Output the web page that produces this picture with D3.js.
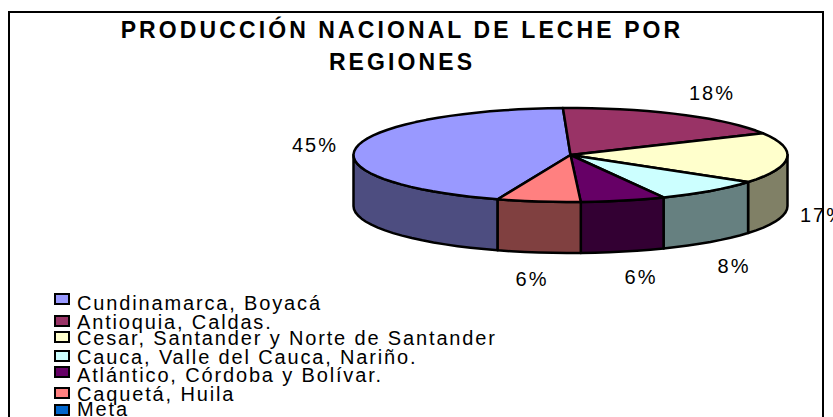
<!DOCTYPE html>
<html>
<head>
<meta charset="utf-8">
<script src="https://cdnjs.cloudflare.com/ajax/libs/d3/7.8.5/d3.min.js"></script>
<style>
html, body { margin: 0; padding: 0; background: #fff; overflow: hidden; }
text { font-family: "Liberation Sans", Arial, sans-serif; fill: #000; }
</style>
</head>
<body>
<svg id="chart" width="833" height="417"></svg>
<script>
// chart data
const titleLines = ['PRODUCCIÓN NACIONAL DE LECHE POR', 'REGIONES'];
const regions = [
	'Cundinamarca, Boyacá',
	'Antioquia, Caldas.',
	'Cesar, Santander y Norte de Santander',
	'Cauca, Valle del Cauca, Nariño.',
	'Atlántico, Córdoba y Bolívar.',
	'Caquetá, Huila',
	'Meta'
];
// slice sizes as measured on the drawn disc, the printed labels differ a bit
const shares = [44.0, 17.9, 17.4, 8.2, 6.3, 6.2, 0];
const shareLabels = ['45%', '18%', '17%', '8%', '6%', '6%', ''];
const colors = ['#9999ff', '#993366', '#ffffcc', '#ccffff', '#660066', '#ff8080', '#0066cc'];
const wallColors = ['#4d4d80', '#804040', '#808066', '#668080', '#330033', '#804040', '#003366'];

// layout (the original legend rows are unevenly spaced)
const legendText = [310, 329, 345, 364, 382, 401, 416];
const legendBox = [299, 321, 337, 356, 372, 393, 410];
const labelPos = [[315, 152], [712, 100], [800, 222, 'start'], [734, 273], [641, 284], [532, 286]];
const cx = 570.5, cy = 155, rx = 217, ry = 47, depth = 51;

const svg = d3.select('#chart');

const x = d3.scaleLinear().domain([-1, 1]).range([cx - rx, cx + rx]);
const y = d3.scaleLinear().domain([-1, 1]).range([cy - ry, cy + ry]);
const line = d3.line();

// angle is clockwise from 12 o'clock, like d3.pie
const rim = (a, dy = 0) => [x(Math.sin(a)), y(-Math.cos(a)) + dy];

function arcPoints(a0, a1, dy) {
	const n = Math.max(1, Math.ceil((a1 - a0) / (Math.PI / 45)));
	return d3.range(n + 1).map(i => rim(a0 + (a1 - a0) * i / n, dy));
}

// start the first slice low on the left so the blue one wraps over the top
const pie = d3.pie().sort(null)
	.startAngle(199.6 * Math.PI / 180)
	.endAngle((199.6 + 360) * Math.PI / 180);
const slices = pie(shares).filter(d => d.value > 0);

// walls: only the front half of the disc is visible
const walls = svg.append('g');
slices.forEach(d => {
	[0, 2 * Math.PI].forEach(turn => {
		const a0 = Math.max(d.startAngle - turn, Math.PI / 2);
		const a1 = Math.min(d.endAngle - turn, 3 * Math.PI / 2);
		if (a1 <= a0) return;
		const pts = arcPoints(a0, a1, 0).concat(arcPoints(a0, a1, depth).reverse());
		walls.append('path')
			.attr('d', line(pts) + 'Z')
			.attr('fill', wallColors[d.index])
			.attr('stroke', '#000')
			.attr('stroke-width', 2.5)
			.attr('stroke-linejoin', 'round');
	});
});

// top of the disc
svg.append('g').selectAll('path')
	.data(slices)
	.join('path')
	.attr('d', d => line([[cx, cy]].concat(arcPoints(d.startAngle, d.endAngle, 0))) + 'Z')
	.attr('fill', d => colors[d.index])
	.attr('stroke', '#000')
	.attr('stroke-width', 2.5)
	.attr('stroke-linejoin', 'round');

// percent labels
svg.append('g').selectAll('text')
	.data(slices)
	.join('text')
	.attr('x', d => labelPos[d.index][0])
	.attr('y', d => labelPos[d.index][1])
	.attr('text-anchor', d => labelPos[d.index][2] || 'middle')
	.attr('font-size', 20)
	.attr('letter-spacing', 2)
	.text(d => shareLabels[d.index]);

// title
svg.append('g').selectAll('text')
	.data(titleLines)
	.join('text')
	.attr('x', 402)
	.attr('y', (d, i) => 38 + i * 32)
	.attr('text-anchor', 'middle')
	.attr('font-size', 23)
	.attr('font-weight', 'bold')
	.attr('letter-spacing', 3.1)
	.text(d => d);

// legend
const legend = svg.append('g');
legend.selectAll('rect')
	.data(regions)
	.join('rect')
	.attr('x', 55)
	.attr('y', (d, i) => legendBox[i] - 5)
	.attr('width', 14)
	.attr('height', 10)
	.attr('fill', (d, i) => colors[i])
	.attr('stroke', '#000')
	.attr('stroke-width', 2);
legend.selectAll('text')
	.data(regions)
	.join('text')
	.attr('x', 77)
	.attr('y', (d, i) => legendText[i])
	.attr('font-size', 20)
	.attr('letter-spacing', 1.85)
	.text(d => d);

// chart frame, bottom edge falls outside the picture
svg.append('path')
	.attr('d', 'M9,430V12H823V430')
	.attr('fill', 'none')
	.attr('stroke', '#000')
	.attr('stroke-width', 2);
</script>
</body>
</html>
